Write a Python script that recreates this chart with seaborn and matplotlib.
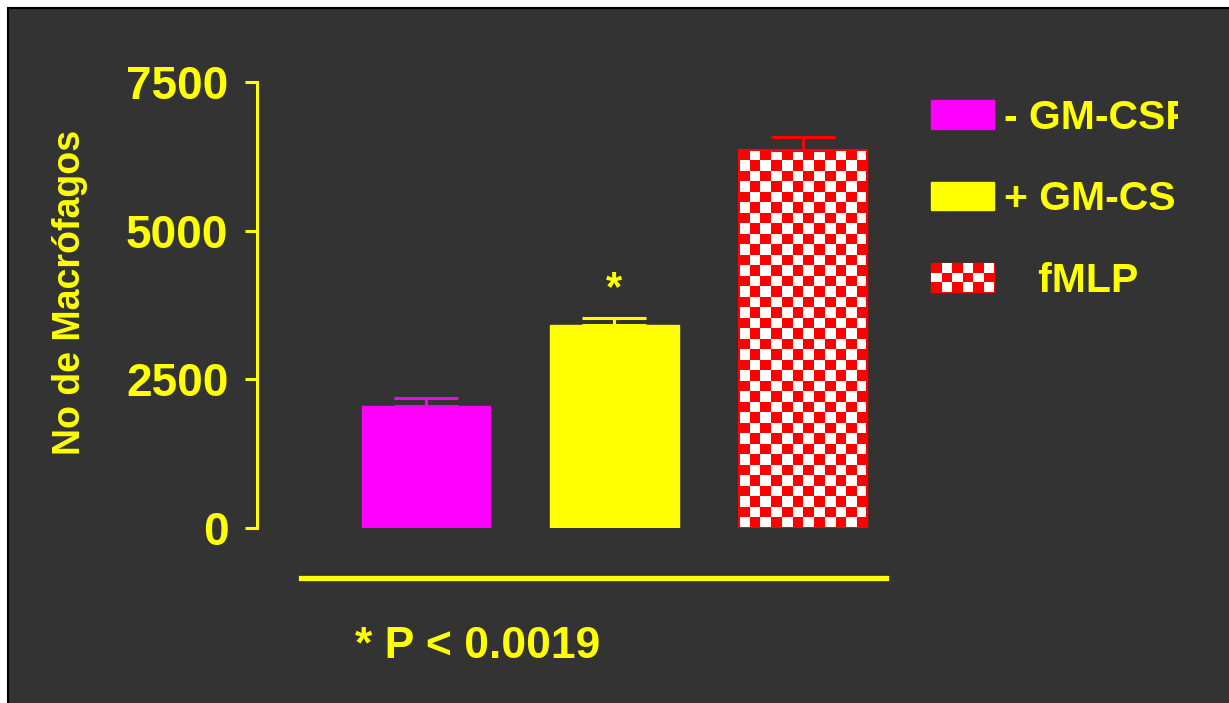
import numpy as np
import pandas as pd
import matplotlib
matplotlib.use("Agg")
import matplotlib.pyplot as plt
import seaborn as sns
from matplotlib.patches import Rectangle, Patch
from matplotlib.colors import ListedColormap
from matplotlib.legend_handler import HandlerBase
from matplotlib.transforms import Bbox, TransformedBbox

# ---- data ----
categories = ["- GM-CSF", "+ GM-CSF", "fMLP"]
values = [2050, 3410, 6360]
errors = [135, 120, 215]
yticks = [0, 2500, 5000, 7500]
ytick_labels = ["0", "2500", "5000", "7500"]
legend_labels = ["- GM-CSF", "+ GM-CSF", "   fMLP"]
ylabel_text = "No de Macrófagos"
pvalue_text = "* P < 0.0019"

BG = "#333333"
YEL = "#FFFF00"
MAG = "#FF00FF"
RED = "#FF0000"
bar_colors = [MAG, YEL, RED]
err_colors = ["#E010E0", YEL, RED]

sns.set_theme(style="ticks")
plt.rcParams["font.family"] = ["Liberation Sans", "DejaVu Sans"]
plt.rcParams["font.weight"] = "bold"

W, H = 1229, 703
fig = plt.figure(figsize=(W / 100, H / 100), dpi=100, facecolor="white")

# dark panel with black border
fig.add_artist(Rectangle((8 / W, -0.1), 1.2, (H - 8) / H + 0.1,
                         transform=fig.transFigure, facecolor=BG,
                         edgecolor="black", linewidth=1.5, zorder=0))

ax = fig.add_axes([257 / W, (H - 528) / H, 643 / W, 446 / H])
ax.set_facecolor("none")

df = pd.DataFrame({"cat": categories, "val": values})
sns.barplot(data=df, x="cat", y="val", hue="cat", palette=bar_colors,
            order=categories, hue_order=categories, legend=False,
            width=0.68, saturation=1, ax=ax, errorbar=None)
for p, c in zip(ax.patches, bar_colors):
    p.set_edgecolor(c)
    p.set_linewidth(1)

# checkerboard texture on fMLP bar
chk = ax.patches[2]
bb = chk.get_bbox()
sq_x = 10.5 / 188.5
sq_y = 10.5 / 446 * 7500
nx = int(round((bb.x1 - bb.x0) / sq_x))
ny = int(round((bb.y1 - bb.y0) / sq_y))
ii, jj = np.indices((ny, nx))
board = ((ii + jj) % 2).astype(float)
im = ax.imshow(board, cmap=ListedColormap([RED, "white"]),
               extent=(bb.x0, bb.x1, bb.y1 - ny * sq_y, bb.y1),
               origin="upper", aspect="auto", interpolation="nearest",
               zorder=chk.get_zorder() + 0.1, vmin=0, vmax=1)
im.set_clip_path(chk)
# red outline over the texture
ax.add_patch(Rectangle((bb.x0, bb.y0), bb.x1 - bb.x0, bb.y1 - bb.y0,
                       facecolor="none", edgecolor=RED, linewidth=1.5,
                       zorder=chk.get_zorder() + 0.2))

# error bars (upper only)
for i, (v, e, c) in enumerate(zip(values, errors, err_colors)):
    ax.errorbar(i, v, yerr=[[0], [e]], fmt="none", ecolor=c,
                elinewidth=2.2, capsize=23, capthick=2.2, zorder=5,
                clip_on=False)

# significance star
ax.annotate("*", xy=(1, values[1] + errors[1]), xytext=(0, 13),
            textcoords="offset points", ha="center", va="baseline",
            fontsize=30, fontweight="bold", color=YEL)

ax.set_xlim(-0.8966, 2.515)
ax.set_ylim(0, 7500)
ax.set_yticks(yticks)
ax.set_yticklabels(ytick_labels)
ax.set_xticks([])
ax.set_xlabel("")
ax.set_ylabel(ylabel_text, fontsize=27, fontweight="bold", color=YEL)
ax.yaxis.set_label_coords(-0.263, 0.529)

for s in ["top", "right"]:
    ax.spines[s].set_visible(False)
ax.spines["left"].set_color(YEL)
ax.spines["left"].set_linewidth(2.2)
ax.spines["left"].set_bounds(0, 7500)
ax.spines["bottom"].set_color(YEL)
ax.spines["bottom"].set_linewidth(3.8)
ax.spines["bottom"].set_position(("outward", 36))
ax.spines["bottom"].set_bounds(-0.664, 2.44)
ax.tick_params(axis="y", colors=YEL, length=8.6, width=2.2, pad=12,
               labelsize=33, direction="out")
for t in ax.get_yticklabels():
    t.set_fontweight("bold")
ax.tick_params(axis="x", length=0)


class CheckerHandler(HandlerBase):
    def create_artists(self, legend, orig_handle, xdescent, ydescent,
                       width, height, fontsize, trans):
        arts = [Rectangle((-xdescent, -ydescent), width, height,
                          facecolor=RED, edgecolor=RED, lw=1,
                          transform=trans)]
        sq = 7.6
        nxl = max(1, int(round(width / sq)))
        nyl = max(1, int(round(height / sq)))
        dx, dy = width / nxl, height / nyl
        for r in range(nyl):
            for c in range(nxl):
                if (r + c) % 2 == 1:
                    arts.append(Rectangle((-xdescent + c * dx,
                                           -ydescent + height - (r + 1) * dy),
                                          dx, dy, facecolor="white",
                                          edgecolor="none", transform=trans))
        return arts


handles = [Patch(facecolor=MAG, edgecolor=MAG),
           Patch(facecolor=YEL, edgecolor=YEL),
           Patch(facecolor=RED, edgecolor=RED, label="chk")]
leg = ax.legend(handles, legend_labels, loc="upper left",
                bbox_to_anchor=(931 / W, (H - 99) / H),
                bbox_transform=fig.transFigure, frameon=False,
                borderpad=0, borderaxespad=0,
                handlelength=1.54, handleheight=0.69, handletextpad=0.25,
                labelspacing=1.06,
                handler_map={handles[2]: CheckerHandler()},
                prop={"weight": "bold", "size": 29.5})
clipbox = TransformedBbox(Bbox([[0, 0], [1178 / W, 1]]), fig.transFigure)
for t in leg.get_texts():
    t.set_color(YEL)
    t.set_clip_box(clipbox)
    t.set_clip_on(True)

fig.text(355 / W, 1 - 647 / H, pvalue_text, ha="left", va="center",
         fontsize=32, fontweight="bold", color=YEL)

fig.savefig("out.png", dpi=100, facecolor=fig.get_facecolor())
